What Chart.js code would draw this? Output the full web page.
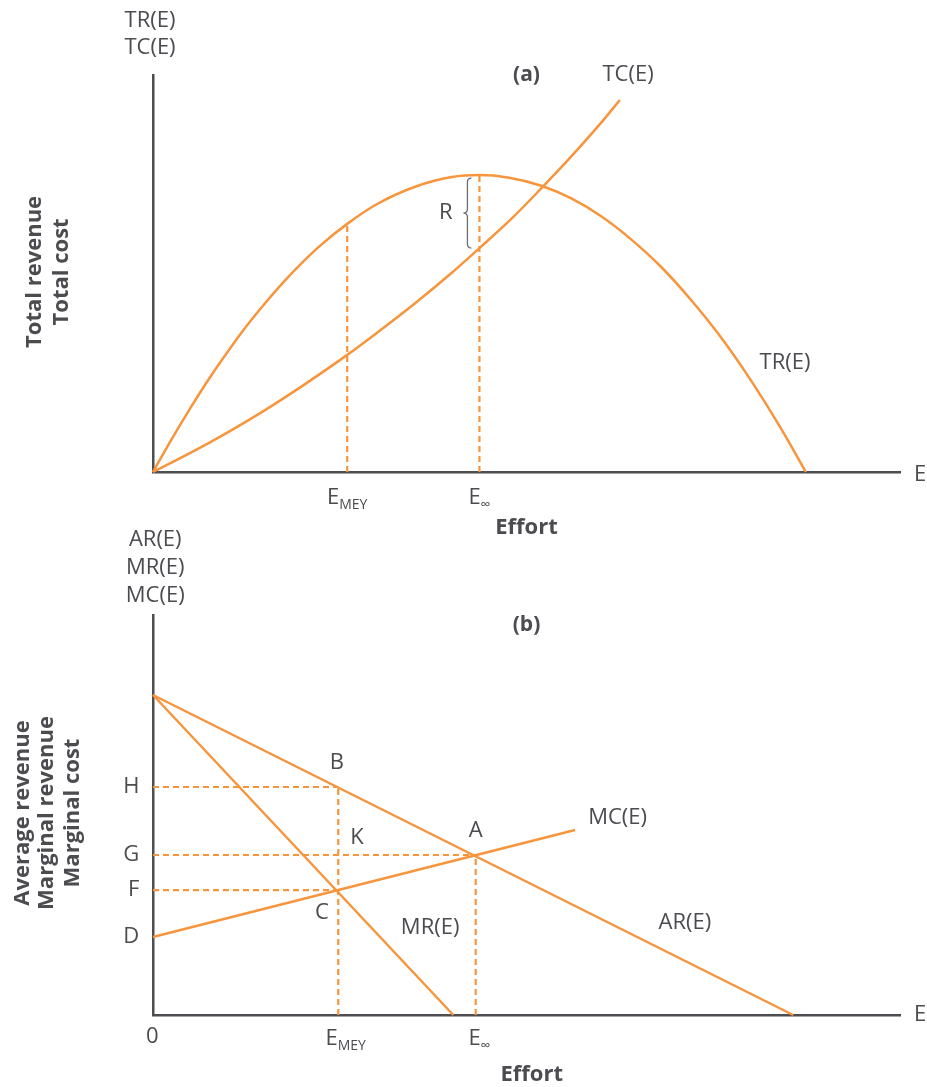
<!DOCTYPE html>
<html>
<head>
<meta charset="utf-8">
<script src="https://cdn.jsdelivr.net/npm/chart.js@4"></script>
<style>
body { margin: 0; background: #fff; }
#wrap { position: relative; width: 927px; height: 1087px; }
canvas { position: absolute; left: 0; }
</style>
</head>
<body>
<div id="wrap">
  <canvas id="chartA" width="927" height="540" style="top:0"></canvas>
  <canvas id="chartB" width="927" height="587" style="top:500px"></canvas>
</div>
<script>
// (a) total revenue and total cost against effort
var trEffort = [0, 2.5, 5, 7.5, 10, 12.5, 15, 17.5, 20, 22.5, 26, 30, 35, 40, 43.7, 47.5, 52, 56, 60, 64, 68, 72, 76, 80, 84, 87.4];
var trValues = [0, 8.3, 16.1, 23.5, 30.3, 36.7, 42.5, 47.9, 52.8, 57.2, 62.5, 67.5, 71.8, 74.3, 74.8, 74.2, 72.1, 68.9, 64.4, 58.6, 51.7, 43.4, 34, 23.2, 11.2, 0];
var tcEffort = [0, 5, 10, 15, 20, 26, 30, 35, 40, 43.7, 48, 52, 56, 60, 62.5];
var tcValues = [0, 4.8, 10, 15.6, 21.7, 29.5, 35.1, 42.4, 50.2, 56.4, 63.8, 71.5, 79.5, 88, 93.7];
var effortMarksA = [26, 43.7];          // E_MEY, E_inf
var trAtMarksA = [62.5, 74.8];
var tcAtInfA = 56.4;

// (b) average revenue, marginal revenue, marginal cost
var arEffort = [0, 85.7], arValues = [80, 0];
var mrEffort = [0, 40.2], mrValues = [80, 0];
var mcEffort = [0, 56.5], mcValues = [19.5, 46.25];
var effortMarksB = [24.8, 43.2];        // E_MEY, E_inf
var levelH = 57, levelG = 40, levelF = 31.2;

var ORANGE = "#f7953d";
var AXIS = "#4d4d52";
var TEXT = "#4b4b50";
var FONT = '"Open Sans", sans-serif';

function pts(xs, ys) {
	return xs.map(function (x, i) { return { x: x, y: ys[i] }; });
}
function curve(data) {
	return { data: data, showLine: true, borderColor: ORANGE, borderWidth: 2.5, pointRadius: 0,
		cubicInterpolationMode: "monotone", clip: false };
}
function dashed(data) {
	return { data: data, showLine: true, borderColor: ORANGE, borderWidth: 2.2, borderDash: [6, 4],
		pointRadius: 0, clip: false };
}
function axisScale() {
	return {
		type: "linear", min: 0, max: 100,
		grid: { display: false, drawTicks: false },
		border: { display: true, color: AXIS, width: 2.5 },
		ticks: { display: false }
	};
}

function drawSub(ctx, px, py, main, sub) {
	ctx.font = "22px " + FONT;
	var w1 = ctx.measureText(main).width;
	ctx.font = "14px " + FONT;
	var w2 = ctx.measureText(sub).width;
	var left = px - (w1 + w2) / 2;
	ctx.textAlign = "left";
	ctx.textBaseline = "alphabetic";
	ctx.font = "22px " + FONT;
	ctx.fillText(main, left, py);
	ctx.font = "14px " + FONT;
	ctx.fillText(sub, left + w1, py + 5);
}

function textPlugin(labels, extra) {
	return {
		id: "txt",
		afterDraw: function (chart) {
			var ctx = chart.ctx, xs = chart.scales.x, ys = chart.scales.y;
			ctx.save();
			ctx.fillStyle = TEXT;
			labels.forEach(function (l) {
				var px = xs.getPixelForValue(l.x), py = ys.getPixelForValue(l.y);
				if (l.sub) {
					drawSub(ctx, px, py, l.t, l.sub);
					return;
				}
				ctx.font = (l.bold ? "bold " : "") + (l.size || 22) + "px " + FONT;
				ctx.textAlign = "center";
				ctx.textBaseline = "middle";
				if (l.rot) {
					ctx.save();
					ctx.translate(px, py);
					ctx.rotate(-Math.PI / 2);
					ctx.fillText(l.t, 0, 0);
					ctx.restore();
				} else {
					ctx.fillText(l.t, px, py);
				}
			});
			if (extra) extra(ctx, xs, ys);
			ctx.restore();
		}
	};
}

// curly brace marking R between TR and TC
function drawBrace(ctx, xs, ys) {
	var x = xs.getPixelForValue(effortMarksA[1]) - 12;
	var y0 = ys.getPixelForValue(trAtMarksA[1]) + 3;
	var y1 = ys.getPixelForValue(tcAtInfA);
	var ym = (y0 + y1) / 2, w = 4;
	ctx.strokeStyle = "#6d6d72";
	ctx.lineWidth = 1.3;
	ctx.beginPath();
	ctx.moveTo(x + w, y0);
	ctx.quadraticCurveTo(x, y0, x, y0 + w);
	ctx.lineTo(x, ym - w);
	ctx.quadraticCurveTo(x, ym, x - w, ym);
	ctx.quadraticCurveTo(x, ym, x, ym + w);
	ctx.lineTo(x, y1 - w);
	ctx.quadraticCurveTo(x, y1, x + w, y1);
	ctx.stroke();
}

var labelsA = [
	{ t: "TR(E)", x: -0.4, y: 113.6 },
	{ t: "TC(E)", x: -0.4, y: 106.8 },
	{ t: "(a)", x: 50, y: 100, bold: true, size: 21 },
	{ t: "TC(E)", x: 63.6, y: 100 },
	{ t: "TR(E)", x: 84.6, y: 27.5 },
	{ t: "R", x: 39.2, y: 65.2 },
	{ t: "E", x: 102.7, y: -0.8 },
	{ t: "E", sub: "MEY", x: effortMarksA[0], y: -8 },
	{ t: "E", sub: "\u221e", x: effortMarksA[1], y: -8 },
	{ t: "Effort", x: 50, y: -14.1, bold: true },
	{ t: "Total revenue", x: -15.8, y: 50.4, bold: true, rot: true },
	{ t: "Total cost", x: -12.2, y: 50.4, bold: true, rot: true }
];

var labelsB = [
	{ t: "AR(E)", x: 0.3, y: 118.75 },
	{ t: "MR(E)", x: 0.3, y: 111.75 },
	{ t: "MC(E)", x: 0.3, y: 104.75 },
	{ t: "(b)", x: 50, y: 97.5, bold: true, size: 21 },
	{ t: "H", x: -2.9, y: levelH },
	{ t: "G", x: -2.9, y: levelG },
	{ t: "F", x: -2.6, y: levelF },
	{ t: "D", x: -2.9, y: mcValues[0] },
	{ t: "0", x: -0.1, y: -5.5 },
	{ t: "B", x: 24.6, y: 63 },
	{ t: "K", x: 27.3, y: 44.25 },
	{ t: "A", x: 43.2, y: 46 },
	{ t: "C", x: 22.6, y: 25.5 },
	{ t: "MR(E)", x: 37.1, y: 21.75 },
	{ t: "AR(E)", x: 71.2, y: 23 },
	{ t: "MC(E)", x: 62.2, y: 49.25 },
	{ t: "E", x: 102.7, y: 0 },
	{ t: "E", sub: "MEY", x: effortMarksB[0] + 1, y: -7.6 },
	{ t: "E", sub: "\u221e", x: effortMarksB[1] + 0.5, y: -7.6 },
	{ t: "Effort", x: 50.7, y: -15, bold: true },
	{ t: "Average revenue", x: -17.5, y: 50.5, bold: true, rot: true },
	{ t: "Marginal revenue", x: -14.2, y: 50.5, bold: true, rot: true },
	{ t: "Marginal cost", x: -10.8, y: 50.5, bold: true, rot: true }
];

function baseOptions(padTop, padBottom) {
	return {
		responsive: false,
		animation: false,
		layout: { padding: { left: 153, right: 27, top: padTop, bottom: padBottom } },
		plugins: { legend: { display: false }, tooltip: { enabled: false } },
		scales: { x: axisScale(), y: axisScale() }
	};
}

new Chart(document.getElementById("chartA"), {
	type: "scatter",
	data: {
		datasets: [
			curve(pts(trEffort, trValues)),
			curve(pts(tcEffort, tcValues)),
			dashed([{ x: effortMarksA[0], y: 0 }, { x: effortMarksA[0], y: trAtMarksA[0] }]),
			dashed([{ x: effortMarksA[1], y: 0 }, { x: effortMarksA[1], y: trAtMarksA[1] }])
		]
	},
	options: baseOptions(75, 68),
	plugins: [textPlugin(labelsA, drawBrace)]
});

new Chart(document.getElementById("chartB"), {
	type: "scatter",
	data: {
		datasets: [
			curve(pts(arEffort, arValues)),
			curve(pts(mrEffort, mrValues)),
			curve(pts(mcEffort, mcValues)),
			dashed([{ x: 0, y: levelH }, { x: effortMarksB[0], y: levelH }]),
			dashed([{ x: 0, y: levelG }, { x: effortMarksB[1], y: levelG }]),
			dashed([{ x: 0, y: levelF }, { x: effortMarksB[0], y: levelF }]),
			dashed([{ x: effortMarksB[0], y: 0 }, { x: effortMarksB[0], y: levelH }]),
			dashed([{ x: effortMarksB[1], y: 0 }, { x: effortMarksB[1], y: levelG }])
		]
	},
	options: baseOptions(115, 72),
	plugins: [textPlugin(labelsB)]
});
</script>
</body>
</html>
